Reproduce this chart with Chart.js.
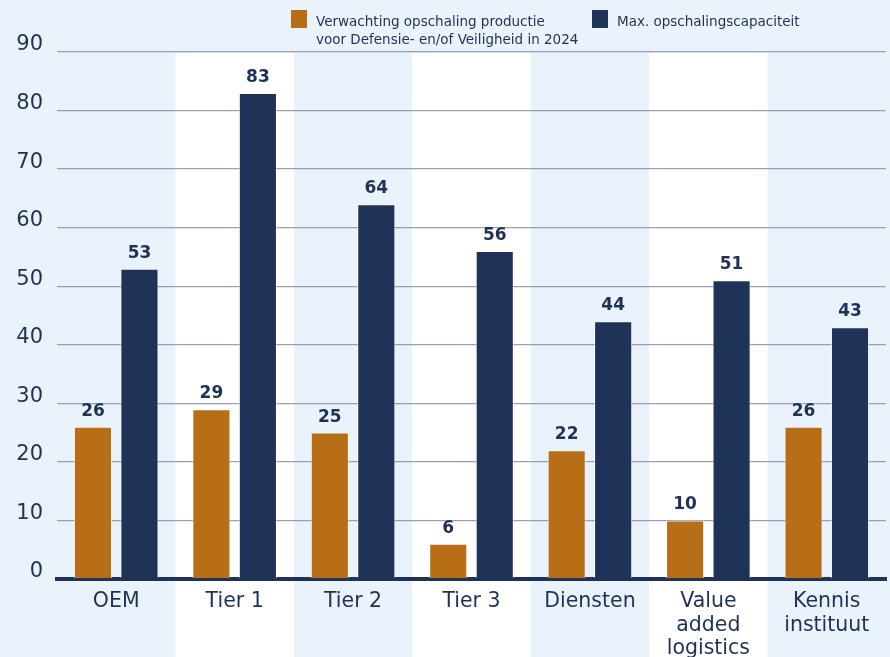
<!DOCTYPE html>
<html>
<head>
<meta charset="utf-8">
<script src="https://cdn.jsdelivr.net/npm/chart.js@4.4.1/dist/chart.umd.min.js"></script>
<style>
html, body { margin: 0; padding: 0; background: #eaf3fb; }
#wrap { width: 890px; height: 657px; position: relative; }
</style>
</head>
<body>
<div id="wrap"><canvas id="myChart"></canvas></div>
<script>
const categories = ['OEM', 'Tier 1', 'Tier 2', 'Tier 3', 'Diensten', ['Value', 'added', 'logistics'], ['Kennis', 'instituut']];
const expectedGrowth = [26, 29, 25, 6, 22, 10, 26];
const maxCapacity = [53, 83, 64, 56, 44, 51, 43];
const seriesNames = [
    ['Verwachting opschaling productie', 'voor Defensie- en/of Veiligheid in 2024'],
    ['Max. opschalingscapaciteit']
];
const yMin = 0, yMax = 90, yStep = 10;

const ORANGE = '#b86e17';
const NAVY = '#1f3358';
const TEXT = '#1f3157';
const BG = '#eaf3fb';
const FONT = '"DejaVu Sans", sans-serif';

// light blue background + white column bands
const bands = {
    id: 'bands',
    beforeDraw(chart) {
        const c = chart.ctx, x = chart.scales.x, area = chart.chartArea;
        c.save();
        c.fillStyle = BG;
        c.fillRect(0, 0, chart.width, chart.height);
        const w = (area.right - area.left) / categories.length;
        c.fillStyle = '#ffffff';
        for (let i = 1; i < categories.length; i += 2) {
            const cx = x.getPixelForValue(i);
            c.fillRect(cx - w / 2, area.top + 1, w, chart.height - area.top);
        }
        c.restore();
    }
};

// value labels above the bars
const valueLabels = {
    id: 'valueLabels',
    afterDatasetsDraw(chart) {
        const c = chart.ctx;
        c.save();
        c.font = 'bold 17px ' + FONT;
        c.fillStyle = TEXT;
        c.textAlign = 'center';
        c.textBaseline = 'bottom';
        chart.data.datasets.forEach((ds, di) => {
            chart.getDatasetMeta(di).data.forEach((bar, i) => {
                c.fillText(ds.data[i], bar.x, bar.y - 7);
            });
        });
        c.restore();
    }
};

// legend at the top right, first entry on two lines
const topLegend = {
    id: 'topLegend',
    afterDraw(chart) {
        const c = chart.ctx;
        const items = [
            { x: 291, color: ORANGE, lines: seriesNames[0] },
            { x: 592, color: NAVY, lines: seriesNames[1] }
        ];
        c.save();
        c.font = '13.5px ' + FONT;
        c.textBaseline = 'alphabetic';
        c.textAlign = 'left';
        items.forEach(it => {
            c.fillStyle = it.color;
            c.fillRect(it.x, 10, 16, 18);
            c.fillStyle = TEXT;
            it.lines.forEach((t, k) => c.fillText(t, it.x + 25, 26 + k * 18));
        });
        c.restore();
    }
};

const ctx = document.getElementById('myChart');

var chart = new Chart(ctx, {
    type: 'bar',
    data: {
        labels: categories,
        datasets: [{
            label: seriesNames[0].join(' '),
            data: expectedGrowth,
            backgroundColor: ORANGE,
            borderColor: 'rgba(255,255,255,0.6)',
            borderWidth: 1,
            categoryPercentage: 0.785,
            barPercentage: 0.82
        }, {
            label: seriesNames[1][0],
            data: maxCapacity,
            backgroundColor: NAVY,
            borderColor: 'rgba(255,255,255,0.6)',
            borderWidth: 1,
            categoryPercentage: 0.785,
            barPercentage: 0.82
        }]
    },
    options: {
        responsive: true,
        maintainAspectRatio: false,
        animation: false,
        layout: { padding: { top: 52, right: 4, left: 0, bottom: 0 } },
        plugins: {
            legend: { display: false },
            tooltip: { enabled: false }
        },
        scales: {
            x: {
                grid: { display: false },
                border: { display: true, color: NAVY, width: 4 },
                ticks: {
                    color: TEXT,
                    font: { family: FONT, size: 20.5, lineHeight: 1.15 },
                    padding: 3,
                    maxRotation: 0,
                    autoSkip: false
                },
                afterFit(scale) { scale.height = 78; }
            },
            y: {
                min: yMin,
                max: yMax,
                border: { display: false },
                grid: { color: '#9d9db8', lineWidth: 1.3, drawTicks: false },
                ticks: {
                    stepSize: yStep,
                    color: TEXT,
                    font: { family: FONT, size: 21 },
                    padding: 14,
                    labelOffset: -7
                },
                afterFit(scale) { scale.width = 57; }
            }
        }
    },
    plugins: [bands, valueLabels, topLegend]
});
</script>
</body>
</html>
